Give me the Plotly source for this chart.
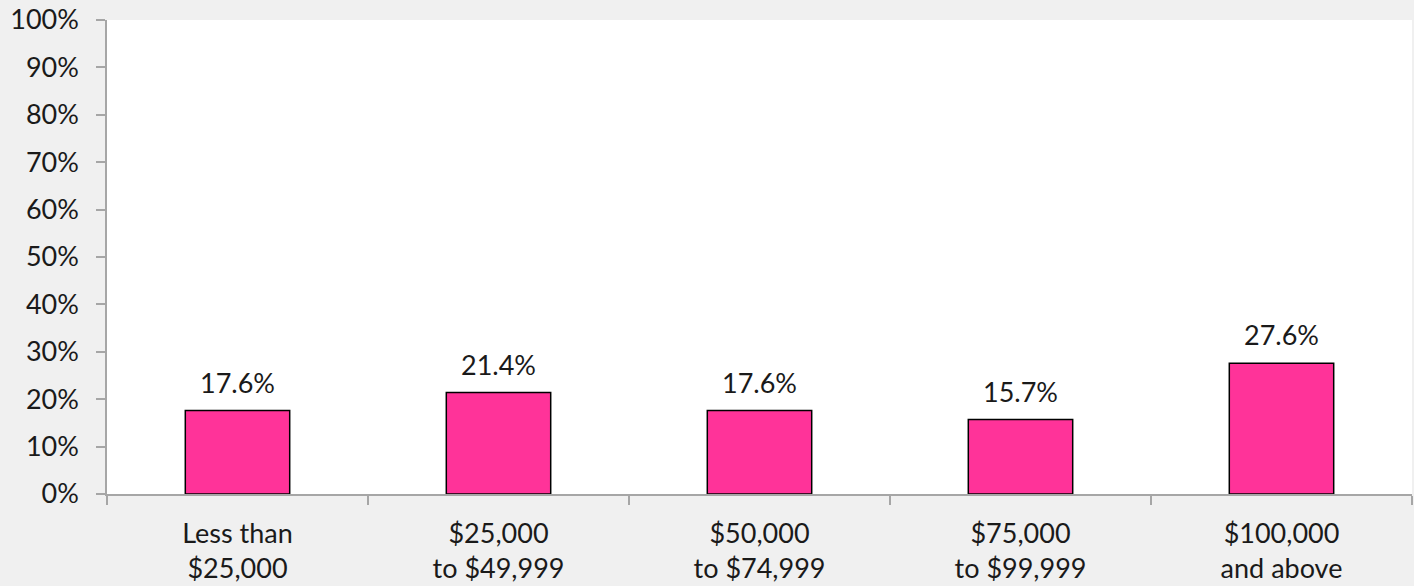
import plotly.graph_objects as go

categories = ["Less than<br>$25,000", "$25,000<br>to $49,999", "$50,000<br>to $74,999",
              "$75,000<br>to $99,999", "$100,000<br>and above"]
values = [17.6, 21.4, 17.6, 15.7, 27.6]
labels = ["17.6%", "21.4%", "17.6%", "15.7%", "27.6%"]
y_ticks = list(range(0, 101, 10))
y_ticktext = [f"{v}%" for v in y_ticks]

FONT = "Lato, 'Noto Sans', sans-serif"
FS = 27

fig = go.Figure(go.Bar(
    x=categories, y=values,
    marker=dict(color="#ff3399", line=dict(color="#000000", width=1.5)),
    width=0.4, hoverinfo="skip",
))

for c, v, t in zip(categories, values, labels):
    fig.add_annotation(x=c, y=v, text=t, showarrow=False, yanchor="bottom",
                       yshift=10, font=dict(size=FS, color="#1a1a1a", family=FONT))

fig.update_layout(
    width=1414, height=586,
    margin=dict(l=107, r=2, t=18, b=92),
    paper_bgcolor="#f0f0f0", plot_bgcolor="#ffffff",
    font=dict(family=FONT, size=FS, color="#1a1a1a"),
    showlegend=False,
)
fig.update_yaxes(
    range=[0, 100], tickvals=y_ticks, ticktext=y_ticktext,
    showgrid=False, zeroline=False,
    showline=True, linecolor="#a6a6a6", linewidth=1.5,
    ticks="outside", ticklen=9, tickcolor="#a6a6a6", tickwidth=1.5,
    tickfont=dict(size=FS), ticklabelstandoff=12,
)
fig.update_xaxes(
    showgrid=False, showline=True, linecolor="#a6a6a6", linewidth=1.5,
    ticks="outside", tickson="boundaries", ticklen=9, tickcolor="#a6a6a6", tickwidth=1.5,
    tickfont=dict(size=FS), ticklabelstandoff=15,
)

fig.write_html("out.html", config={"displayModeBar": False},
               post_script="document.body.style.margin='0';document.body.style.background='#f0f0f0';")
